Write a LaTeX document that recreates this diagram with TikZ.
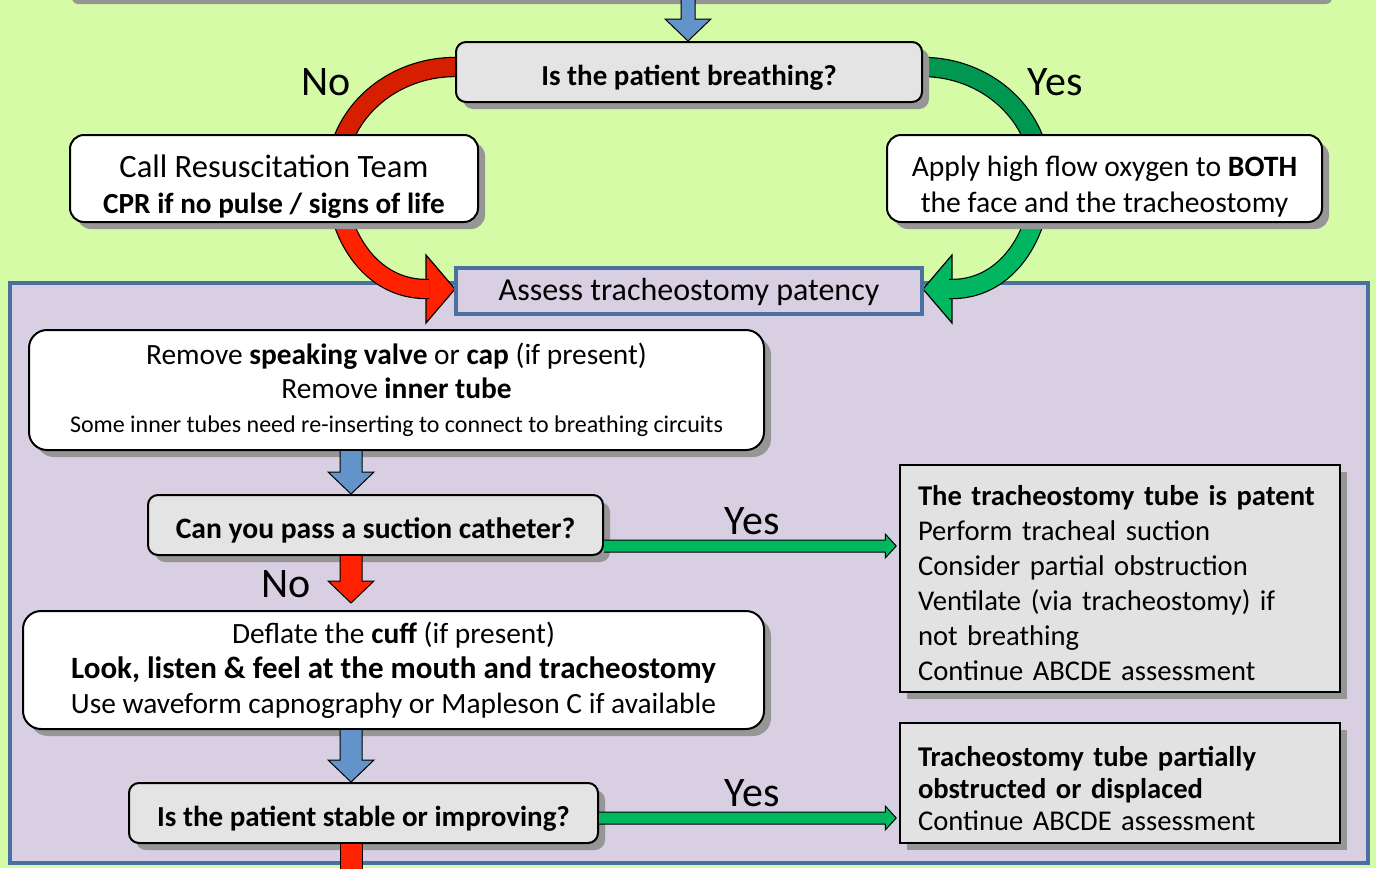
\documentclass[tikz,border=0pt]{standalone}
\usepackage{fontspec}
\setmainfont{Carlito}
\usetikzlibrary{calc,shadows}
\definecolor{bggreen}{RGB}{214,251,167}
\definecolor{panelpurple}{RGB}{216,207,227}
\definecolor{panelblue}{RGB}{74,112,160}
\definecolor{boxgrey}{RGB}{228,228,228}
\definecolor{notegrey}{RGB}{226,226,226}
\definecolor{shadegrey}{RGB}{150,150,150}
\definecolor{flowblue}{RGB}{99,148,201}
\definecolor{nored}{RGB}{255,34,0}
\definecolor{nodarkred}{RGB}{214,30,0}
\definecolor{yesgreen}{RGB}{0,182,96}
\definecolor{yesdarkgreen}{RGB}{0,152,80}
\pgfdeclarelayer{back}
\pgfdeclarelayer{mid}
\pgfsetlayers{back,mid,main}

% block arrow pointing down: colour, from, to, half shaft width
\newcommand{\downblock}[4]{%
  \filldraw[blockarrow, fill=#1] let \p1=#2, \p2=#3 in
    (\x1-#4,\y1) -- (\x1-#4,\y2+11pt) -- (\x1-11.5pt,\y2+11pt) -- (\x1,\y2)
    -- (\x1+11.5pt,\y2+11pt) -- (\x1+#4,\y2+11pt) -- (\x1+#4,\y1);}
% thin block arrow pointing right: from, to
\newcommand{\rightblock}[2]{%
  \filldraw[blockarrow, fill=yesgreen] let \p1=#1, \p2=#2 in
    (\x1,\y1+3pt) -- (\x2-5.5pt,\y1+3pt) -- (\x2-5.5pt,\y1+6pt) -- (\x2,\y1)
    -- (\x2-5.5pt,\y1-6pt) -- (\x2-5.5pt,\y1-3pt) -- (\x1,\y1-3pt);}
% font size shortcut
\newcommand{\fs}[1]{\fontsize{#1}{17pt}\selectfont}

\begin{document}
\begin{tikzpicture}[x=0.5pt, y=0.5pt]
    % Define styles
    \tikzstyle{shade} = [drop shadow={shadow xshift=3.5pt, shadow yshift=-3.5pt, fill=shadegrey, opacity=1}]
    \tikzstyle{question} = [rectangle, draw, line width=1pt, fill=boxgrey, rounded corners=5pt, minimum width=233pt, minimum height=30pt, inner sep=0pt, text height=15pt, text depth=2pt, font=\bfseries\fontsize{14.5}{17}\selectfont, shade]
    \tikzstyle{action} = [rectangle, draw, line width=1pt, fill=white, rounded corners=7pt, align=center, inner sep=0pt, font=\fontsize{15}{18}\selectfont, shade]
    \tikzstyle{outcome} = [rectangle, draw, line width=0.75pt, fill=notegrey, text width=202pt, inner xsep=9pt, inner ysep=0pt, align=left, font=\fontsize{14.3}{17.5}\selectfont, shade]
    \tikzstyle{assessbox} = [rectangle, draw=panelblue, line width=2pt, fill=panelpurple, minimum width=233pt, minimum height=23pt, inner sep=0pt, text height=12pt, text depth=3pt, font=\fontsize{16}{18}\selectfont]
    \tikzstyle{answer} = [inner sep=0pt, font=\fontsize{21}{24}\selectfont]
    \tikzstyle{blockarrow} = [draw=black, line width=0.5pt, line join=miter]
    \tikzstyle{curveband} = [draw=black, line width=0.6pt, double distance=9pt]
    \tikzstyle{curvehead} = [draw=black, line width=0.6pt, line join=miter]

    \useasboundingbox (0,0) rectangle (1376,-868);

    % Background
    \begin{pgfonlayer}{back}
    \fill[bggreen] (0,0) rectangle (1376,-868);
    \fill[shadegrey, rounded corners=3pt] (72,6) rectangle (1332,-4);
    \draw[panelblue, line width=2pt, fill=panelpurple] (10,-283) rectangle (1368,-863);
    \end{pgfonlayer}

    % Nodes
    \node[question] (breath) at (689,-72) {Is the patient breathing?};
    \node[action, minimum width=204pt, minimum height=43.5pt] (call) at (274,-178.5) {\rule{0pt}{19.5pt}\fs{16.3}Call Resuscitation Team\\\fs{14.6}\textbf{CPR if no pulse / signs of life}};
    \node[action, minimum width=217.5pt, minimum height=43.5pt, font=\fontsize{14.8}{18}\selectfont] (apply) at (1104.5,-178.5) {\rule{0pt}{18.5pt}Apply high flow oxygen to \textbf{BOTH}\\the face and the tracheostomy};
    \node[assessbox] (assess) at (689,-291) {Assess tracheostomy patency};
    \node[action, rounded corners=9pt, minimum width=367.5pt, minimum height=60pt, font=\fontsize{14.7}{17}\selectfont] (remove) at (396.5,-390) {Remove \textbf{speaking valve} or \textbf{cap} (if present)\\Remove \textbf{inner tube}\\\fontsize{12}{16}\selectfont Some inner tubes need re-inserting to connect to breathing circuits};
    \node[question, minimum width=227.5pt, font=\bfseries\fontsize{14.8}{17}\selectfont] (suction) at (375.5,-525) {Can you pass a suction catheter?};
    \node[action, rounded corners=9pt, minimum width=370.5pt, minimum height=59pt, font=\fontsize{14.7}{17.5}\selectfont] (deflate) at (393.5,-670) {Deflate the \textbf{cuff} (if present)\\\fontsize{15.5}{18}\selectfont\textbf{Look, listen \& feel at the mouth and tracheostomy}\\\fontsize{14.7}{17.5}\selectfont Use waveform capnography or Mapleson C if available};
    \node[question, minimum width=234.5pt] (stable) at (363.5,-813) {Is the patient stable or improving?};
    \node[outcome, minimum height=113.5pt] (patent) at (1120,-578.5) {\rule{0pt}{15pt}\textbf{The tracheostomy tube is patent}\\Perform tracheal suction\\Consider partial obstruction\\Ventilate (via tracheostomy) if\\not breathing\\Continue ABCDE assessment};
    \node[outcome, minimum height=60pt, font=\fontsize{14.3}{16}\selectfont] (partial) at (1120,-783) {\rule{0pt}{15.5pt}\textbf{Tracheostomy tube partially}\\\textbf{obstructed or displaced}\\Continue ABCDE assessment};

    % Labels
    \node[answer] (nobreath) at (326,-82) {No};
    \node[answer] (yesbreath) at (1055,-82) {Yes};
    \node[answer] (yessuction) at (752,-521) {Yes};
    \node[answer] (nosuction) at (286,-584) {No};
    \node[answer] (yesstable) at (752,-793) {Yes};

    % Curved connections
    \begin{pgfonlayer}{mid}
    \coordinate (noturn) at (336,-178);
    \coordinate (noend) at ($(assess.west)+(-28,2)$);
    \coordinate (yesturn) at (1041,-178);
    \coordinate (yesend) at ($(assess.east)+(28,2)$);
    \filldraw[curvehead, fill=nored] ($(noend)+(0,34)$) -- ($(noend)+(29,0)$) -- ($(noend)+(0,-34)$) -- cycle;
    \filldraw[curvehead, fill=yesgreen] ($(yesend)+(0,34)$) -- ($(yesend)+(-29,0)$) -- ($(yesend)+(0,-34)$) -- cycle;
    \draw[curveband, double=nodarkred] ($(breath.west)+(0,5)$) to[out=180, in=90] (noturn);
    \draw[curveband, double=nored] (noturn) to[out=-90, in=180] (noend) -- ++(3,0);
    \draw[curveband, double=yesdarkgreen] ($(breath.east)+(0,5)$) to[out=0, in=90] (yesturn);
    \draw[curveband, double=yesgreen] (yesturn) to[out=-90, in=0] (yesend) -- ++(-3,0);
    \end{pgfonlayer}

    % Connections
    \coordinate (entry) at (688,0);
    \coordinate (axis) at (351,0);
    \coordinate (exit) at (351,-900);
    \coordinate (yesa) at ($(suction.south east)+(0,10)$);
    \coordinate (yesb) at ($(stable.south east)+(0,26)$);
    \downblock{flowblue}{(entry)}{(breath.north)}{3.5pt}
    \downblock{flowblue}{(remove.south -| axis)}{(suction.north -| axis)}{5.5pt}
    \downblock{nored}{(suction.south -| axis)}{($(deflate.north -| axis)+(0,7)$)}{5.5pt}
    \downblock{flowblue}{(deflate.south -| axis)}{(stable.north -| axis)}{5.5pt}
    \filldraw[blockarrow, fill=nored] let \p1=(stable.south -| axis), \p2=(exit) in
        (\x1-5.5pt,\y1) -- (\x1-5.5pt,\y2) -- (\x1+5.5pt,\y2) -- (\x1+5.5pt,\y1);
    \rightblock{(yesa)}{($(patent.west)+(-3,0)$)}
    \rightblock{(yesb)}{($(partial.west)+(-3,0)$)}
\end{tikzpicture}
\end{document}
